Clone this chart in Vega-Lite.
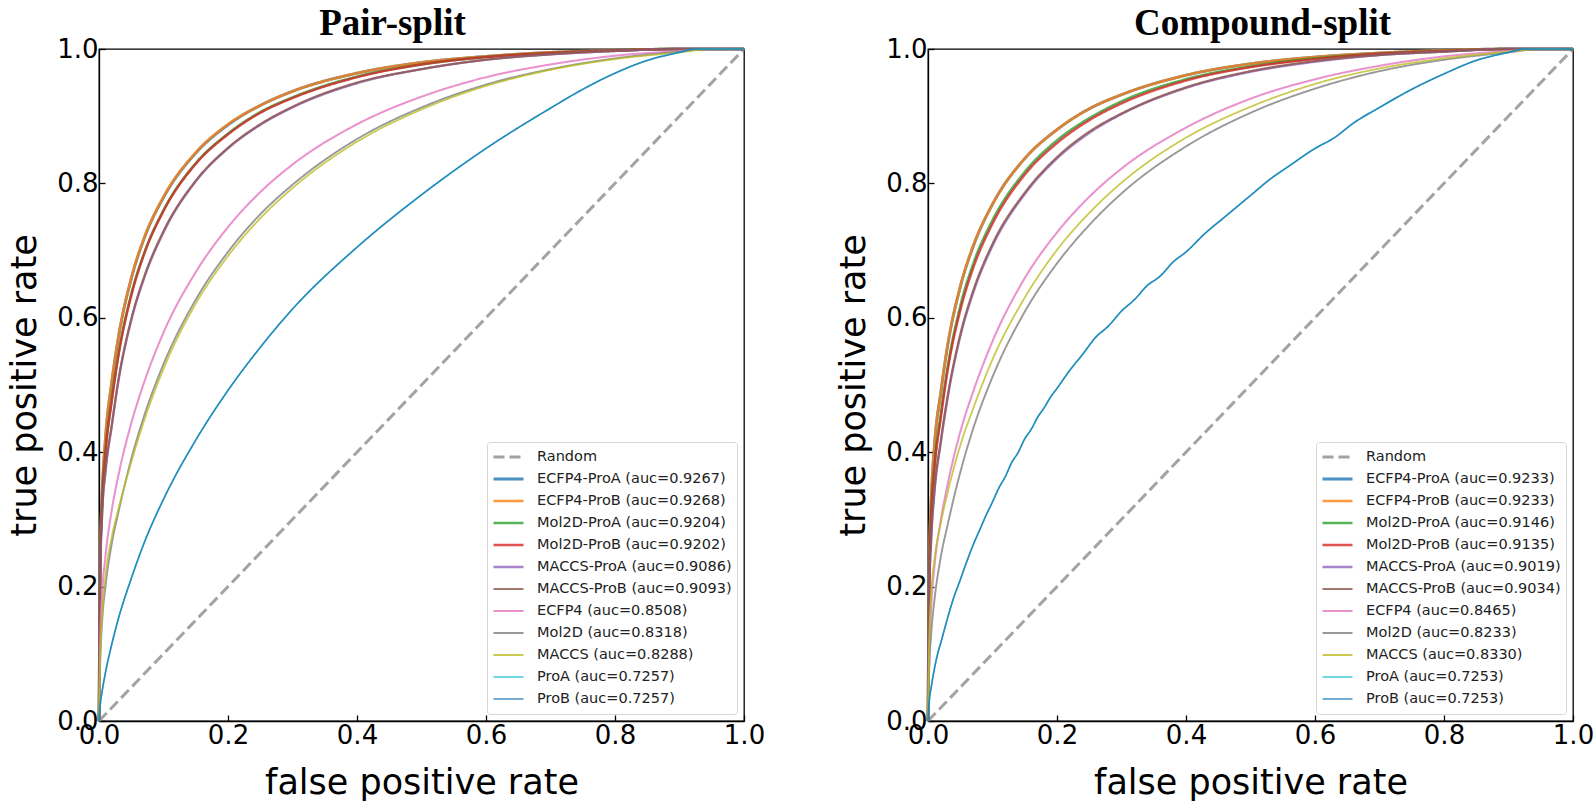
{
"$schema": "https://vega.github.io/schema/vega-lite/v6.json",
"background": "white",
"padding": {"left": 7, "top": 4, "right": 0, "bottom": 0},
"spacing": 70,
"datasets": {
"labP": [{"s":"R","k":"Random"},{"s":"EA","k":"ECFP4-ProA (auc=0.9267)"},{"s":"EB","k":"ECFP4-ProB (auc=0.9268)"},{"s":"MA","k":"Mol2D-ProA (auc=0.9204)"},{"s":"MB","k":"Mol2D-ProB (auc=0.9202)"},{"s":"CA","k":"MACCS-ProA (auc=0.9086)"},{"s":"CB","k":"MACCS-ProB (auc=0.9093)"},{"s":"E","k":"ECFP4 (auc=0.8508)"},{"s":"M","k":"Mol2D (auc=0.8318)"},{"s":"C","k":"MACCS (auc=0.8288)"},{"s":"PA","k":"ProA (auc=0.7257)"},{"s":"PB","k":"ProB (auc=0.7257)"}],
"labC": [{"s":"R","k":"Random"},{"s":"EA","k":"ECFP4-ProA (auc=0.9233)"},{"s":"EB","k":"ECFP4-ProB (auc=0.9233)"},{"s":"MA","k":"Mol2D-ProA (auc=0.9146)"},{"s":"MB","k":"Mol2D-ProB (auc=0.9135)"},{"s":"CA","k":"MACCS-ProA (auc=0.9019)"},{"s":"CB","k":"MACCS-ProB (auc=0.9034)"},{"s":"E","k":"ECFP4 (auc=0.8465)"},{"s":"M","k":"Mol2D (auc=0.8233)"},{"s":"C","k":"MACCS (auc=0.8330)"},{"s":"PA","k":"ProA (auc=0.7253)"},{"s":"PB","k":"ProB (auc=0.7253)"}],
"roc": [
{"p":"P","s":"R","x":0,"y":0},{"p":"P","s":"R","x":1,"y":1},
{"p":"P","s":"EA","x":0,"y":0},{"p":"P","s":"EA","x":0.002,"y":0.25},{"p":"P","s":"EA","x":0.005,"y":0.34},{"p":"P","s":"EA","x":0.01,"y":0.42},{"p":"P","s":"EA","x":0.02,"y":0.505},{"p":"P","s":"EA","x":0.03,"y":0.57},{"p":"P","s":"EA","x":0.05,"y":0.658},{"p":"P","s":"EA","x":0.07,"y":0.718},{"p":"P","s":"EA","x":0.1,"y":0.779},{"p":"P","s":"EA","x":0.15,"y":0.845},{"p":"P","s":"EA","x":0.2,"y":0.887},{"p":"P","s":"EA","x":0.25,"y":0.916},{"p":"P","s":"EA","x":0.3,"y":0.937},{"p":"P","s":"EA","x":0.4,"y":0.964},{"p":"P","s":"EA","x":0.5,"y":0.98},{"p":"P","s":"EA","x":0.6,"y":0.989},{"p":"P","s":"EA","x":0.7,"y":0.995},{"p":"P","s":"EA","x":0.8,"y":0.998},{"p":"P","s":"EA","x":0.9,"y":1},{"p":"P","s":"EA","x":1,"y":1},
{"p":"P","s":"EB","x":0,"y":0},{"p":"P","s":"EB","x":0.002,"y":0.252},{"p":"P","s":"EB","x":0.005,"y":0.342},{"p":"P","s":"EB","x":0.01,"y":0.421},{"p":"P","s":"EB","x":0.02,"y":0.507},{"p":"P","s":"EB","x":0.03,"y":0.571},{"p":"P","s":"EB","x":0.05,"y":0.659},{"p":"P","s":"EB","x":0.07,"y":0.719},{"p":"P","s":"EB","x":0.1,"y":0.78},{"p":"P","s":"EB","x":0.15,"y":0.846},{"p":"P","s":"EB","x":0.2,"y":0.888},{"p":"P","s":"EB","x":0.25,"y":0.916},{"p":"P","s":"EB","x":0.3,"y":0.937},{"p":"P","s":"EB","x":0.4,"y":0.964},{"p":"P","s":"EB","x":0.5,"y":0.98},{"p":"P","s":"EB","x":0.6,"y":0.989},{"p":"P","s":"EB","x":0.7,"y":0.995},{"p":"P","s":"EB","x":0.8,"y":0.998},{"p":"P","s":"EB","x":0.9,"y":1},{"p":"P","s":"EB","x":1,"y":1},
{"p":"P","s":"MA","x":0,"y":0},{"p":"P","s":"MA","x":0.002,"y":0.24},{"p":"P","s":"MA","x":0.005,"y":0.33},{"p":"P","s":"MA","x":0.01,"y":0.4},{"p":"P","s":"MA","x":0.02,"y":0.48},{"p":"P","s":"MA","x":0.03,"y":0.545},{"p":"P","s":"MA","x":0.05,"y":0.635},{"p":"P","s":"MA","x":0.07,"y":0.696},{"p":"P","s":"MA","x":0.1,"y":0.76},{"p":"P","s":"MA","x":0.15,"y":0.83},{"p":"P","s":"MA","x":0.2,"y":0.874},{"p":"P","s":"MA","x":0.25,"y":0.906},{"p":"P","s":"MA","x":0.3,"y":0.928},{"p":"P","s":"MA","x":0.4,"y":0.959},{"p":"P","s":"MA","x":0.5,"y":0.977},{"p":"P","s":"MA","x":0.6,"y":0.988},{"p":"P","s":"MA","x":0.7,"y":0.994},{"p":"P","s":"MA","x":0.8,"y":0.998},{"p":"P","s":"MA","x":0.9,"y":1},{"p":"P","s":"MA","x":1,"y":1},
{"p":"P","s":"MB","x":0,"y":0},{"p":"P","s":"MB","x":0.002,"y":0.238},{"p":"P","s":"MB","x":0.005,"y":0.328},{"p":"P","s":"MB","x":0.01,"y":0.398},{"p":"P","s":"MB","x":0.02,"y":0.478},{"p":"P","s":"MB","x":0.03,"y":0.543},{"p":"P","s":"MB","x":0.05,"y":0.633},{"p":"P","s":"MB","x":0.07,"y":0.695},{"p":"P","s":"MB","x":0.1,"y":0.759},{"p":"P","s":"MB","x":0.15,"y":0.829},{"p":"P","s":"MB","x":0.2,"y":0.873},{"p":"P","s":"MB","x":0.25,"y":0.905},{"p":"P","s":"MB","x":0.3,"y":0.927},{"p":"P","s":"MB","x":0.4,"y":0.958},{"p":"P","s":"MB","x":0.5,"y":0.977},{"p":"P","s":"MB","x":0.6,"y":0.988},{"p":"P","s":"MB","x":0.7,"y":0.994},{"p":"P","s":"MB","x":0.8,"y":0.998},{"p":"P","s":"MB","x":0.9,"y":1},{"p":"P","s":"MB","x":1,"y":1},
{"p":"P","s":"CA","x":0,"y":0},{"p":"P","s":"CA","x":0.002,"y":0.22},{"p":"P","s":"CA","x":0.005,"y":0.31},{"p":"P","s":"CA","x":0.01,"y":0.37},{"p":"P","s":"CA","x":0.02,"y":0.44},{"p":"P","s":"CA","x":0.03,"y":0.505},{"p":"P","s":"CA","x":0.05,"y":0.596},{"p":"P","s":"CA","x":0.07,"y":0.659},{"p":"P","s":"CA","x":0.1,"y":0.727},{"p":"P","s":"CA","x":0.15,"y":0.803},{"p":"P","s":"CA","x":0.2,"y":0.852},{"p":"P","s":"CA","x":0.25,"y":0.887},{"p":"P","s":"CA","x":0.3,"y":0.913},{"p":"P","s":"CA","x":0.4,"y":0.949},{"p":"P","s":"CA","x":0.5,"y":0.97},{"p":"P","s":"CA","x":0.6,"y":0.984},{"p":"P","s":"CA","x":0.7,"y":0.992},{"p":"P","s":"CA","x":0.8,"y":0.997},{"p":"P","s":"CA","x":0.9,"y":1},{"p":"P","s":"CA","x":1,"y":1},
{"p":"P","s":"CB","x":0,"y":0},{"p":"P","s":"CB","x":0.002,"y":0.222},{"p":"P","s":"CB","x":0.005,"y":0.312},{"p":"P","s":"CB","x":0.01,"y":0.372},{"p":"P","s":"CB","x":0.02,"y":0.442},{"p":"P","s":"CB","x":0.03,"y":0.507},{"p":"P","s":"CB","x":0.05,"y":0.598},{"p":"P","s":"CB","x":0.07,"y":0.661},{"p":"P","s":"CB","x":0.1,"y":0.729},{"p":"P","s":"CB","x":0.15,"y":0.804},{"p":"P","s":"CB","x":0.2,"y":0.853},{"p":"P","s":"CB","x":0.25,"y":0.888},{"p":"P","s":"CB","x":0.3,"y":0.914},{"p":"P","s":"CB","x":0.4,"y":0.95},{"p":"P","s":"CB","x":0.5,"y":0.97},{"p":"P","s":"CB","x":0.6,"y":0.984},{"p":"P","s":"CB","x":0.7,"y":0.992},{"p":"P","s":"CB","x":0.8,"y":0.997},{"p":"P","s":"CB","x":0.9,"y":1},{"p":"P","s":"CB","x":1,"y":1},
{"p":"P","s":"E","x":0,"y":0},{"p":"P","s":"E","x":0.002,"y":0.12},{"p":"P","s":"E","x":0.005,"y":0.19},{"p":"P","s":"E","x":0.01,"y":0.245},{"p":"P","s":"E","x":0.02,"y":0.315},{"p":"P","s":"E","x":0.03,"y":0.365},{"p":"P","s":"E","x":0.05,"y":0.443},{"p":"P","s":"E","x":0.07,"y":0.504},{"p":"P","s":"E","x":0.1,"y":0.578},{"p":"P","s":"E","x":0.15,"y":0.668},{"p":"P","s":"E","x":0.2,"y":0.735},{"p":"P","s":"E","x":0.25,"y":0.787},{"p":"P","s":"E","x":0.3,"y":0.828},{"p":"P","s":"E","x":0.4,"y":0.888},{"p":"P","s":"E","x":0.5,"y":0.929},{"p":"P","s":"E","x":0.6,"y":0.958},{"p":"P","s":"E","x":0.7,"y":0.977},{"p":"P","s":"E","x":0.8,"y":0.99},{"p":"P","s":"E","x":0.9,"y":0.997},{"p":"P","s":"E","x":0.95,"y":1},{"p":"P","s":"E","x":1,"y":1},
{"p":"P","s":"M","x":0,"y":0},{"p":"P","s":"M","x":0.002,"y":0.09},{"p":"P","s":"M","x":0.005,"y":0.15},{"p":"P","s":"M","x":0.01,"y":0.2},{"p":"P","s":"M","x":0.02,"y":0.265},{"p":"P","s":"M","x":0.03,"y":0.31},{"p":"P","s":"M","x":0.05,"y":0.39},{"p":"P","s":"M","x":0.07,"y":0.454},{"p":"P","s":"M","x":0.1,"y":0.531},{"p":"P","s":"M","x":0.15,"y":0.627},{"p":"P","s":"M","x":0.2,"y":0.698},{"p":"P","s":"M","x":0.25,"y":0.754},{"p":"P","s":"M","x":0.3,"y":0.798},{"p":"P","s":"M","x":0.4,"y":0.866},{"p":"P","s":"M","x":0.5,"y":0.913},{"p":"P","s":"M","x":0.6,"y":0.947},{"p":"P","s":"M","x":0.7,"y":0.97},{"p":"P","s":"M","x":0.8,"y":0.986},{"p":"P","s":"M","x":0.9,"y":0.996},{"p":"P","s":"M","x":0.95,"y":1},{"p":"P","s":"M","x":1,"y":1},
{"p":"P","s":"C","x":0,"y":0},{"p":"P","s":"C","x":0.002,"y":0.1},{"p":"P","s":"C","x":0.005,"y":0.16},{"p":"P","s":"C","x":0.01,"y":0.215},{"p":"P","s":"C","x":0.02,"y":0.275},{"p":"P","s":"C","x":0.03,"y":0.315},{"p":"P","s":"C","x":0.05,"y":0.385},{"p":"P","s":"C","x":0.07,"y":0.447},{"p":"P","s":"C","x":0.1,"y":0.524},{"p":"P","s":"C","x":0.15,"y":0.621},{"p":"P","s":"C","x":0.2,"y":0.692},{"p":"P","s":"C","x":0.25,"y":0.748},{"p":"P","s":"C","x":0.3,"y":0.793},{"p":"P","s":"C","x":0.4,"y":0.862},{"p":"P","s":"C","x":0.5,"y":0.91},{"p":"P","s":"C","x":0.6,"y":0.945},{"p":"P","s":"C","x":0.7,"y":0.969},{"p":"P","s":"C","x":0.8,"y":0.985},{"p":"P","s":"C","x":0.9,"y":0.995},{"p":"P","s":"C","x":0.95,"y":1},{"p":"P","s":"C","x":1,"y":1},
{"p":"P","s":"PA","x":0,"y":0},{"p":"P","s":"PA","x":0.002,"y":0.025},{"p":"P","s":"PA","x":0.005,"y":0.045},{"p":"P","s":"PA","x":0.01,"y":0.072},{"p":"P","s":"PA","x":0.02,"y":0.115},{"p":"P","s":"PA","x":0.03,"y":0.152},{"p":"P","s":"PA","x":0.05,"y":0.212},{"p":"P","s":"PA","x":0.07,"y":0.265},{"p":"P","s":"PA","x":0.1,"y":0.33},{"p":"P","s":"PA","x":0.15,"y":0.418},{"p":"P","s":"PA","x":0.2,"y":0.492},{"p":"P","s":"PA","x":0.25,"y":0.556},{"p":"P","s":"PA","x":0.3,"y":0.613},{"p":"P","s":"PA","x":0.4,"y":0.705},{"p":"P","s":"PA","x":0.5,"y":0.783},{"p":"P","s":"PA","x":0.6,"y":0.852},{"p":"P","s":"PA","x":0.7,"y":0.912},{"p":"P","s":"PA","x":0.75,"y":0.94},{"p":"P","s":"PA","x":0.8,"y":0.964},{"p":"P","s":"PA","x":0.85,"y":0.983},{"p":"P","s":"PA","x":0.9,"y":0.995},{"p":"P","s":"PA","x":0.925,"y":1},{"p":"P","s":"PA","x":1,"y":1},
{"p":"P","s":"PB","x":0,"y":0},{"p":"P","s":"PB","x":0.002,"y":0.025},{"p":"P","s":"PB","x":0.005,"y":0.045},{"p":"P","s":"PB","x":0.01,"y":0.072},{"p":"P","s":"PB","x":0.02,"y":0.115},{"p":"P","s":"PB","x":0.03,"y":0.152},{"p":"P","s":"PB","x":0.05,"y":0.212},{"p":"P","s":"PB","x":0.07,"y":0.265},{"p":"P","s":"PB","x":0.1,"y":0.33},{"p":"P","s":"PB","x":0.15,"y":0.418},{"p":"P","s":"PB","x":0.2,"y":0.492},{"p":"P","s":"PB","x":0.25,"y":0.556},{"p":"P","s":"PB","x":0.3,"y":0.613},{"p":"P","s":"PB","x":0.4,"y":0.705},{"p":"P","s":"PB","x":0.5,"y":0.783},{"p":"P","s":"PB","x":0.6,"y":0.852},{"p":"P","s":"PB","x":0.7,"y":0.912},{"p":"P","s":"PB","x":0.75,"y":0.94},{"p":"P","s":"PB","x":0.8,"y":0.964},{"p":"P","s":"PB","x":0.85,"y":0.983},{"p":"P","s":"PB","x":0.9,"y":0.995},{"p":"P","s":"PB","x":0.925,"y":1},{"p":"P","s":"PB","x":1,"y":1},
{"p":"C","s":"R","x":0,"y":0},{"p":"C","s":"R","x":1,"y":1},
{"p":"C","s":"EA","x":0,"y":0},{"p":"C","s":"EA","x":0.002,"y":0.24},{"p":"C","s":"EA","x":0.005,"y":0.33},{"p":"C","s":"EA","x":0.01,"y":0.41},{"p":"C","s":"EA","x":0.02,"y":0.49},{"p":"C","s":"EA","x":0.03,"y":0.556},{"p":"C","s":"EA","x":0.05,"y":0.646},{"p":"C","s":"EA","x":0.07,"y":0.706},{"p":"C","s":"EA","x":0.1,"y":0.769},{"p":"C","s":"EA","x":0.15,"y":0.837},{"p":"C","s":"EA","x":0.2,"y":0.88},{"p":"C","s":"EA","x":0.25,"y":0.911},{"p":"C","s":"EA","x":0.3,"y":0.932},{"p":"C","s":"EA","x":0.4,"y":0.961},{"p":"C","s":"EA","x":0.5,"y":0.978},{"p":"C","s":"EA","x":0.6,"y":0.988},{"p":"C","s":"EA","x":0.7,"y":0.994},{"p":"C","s":"EA","x":0.8,"y":0.998},{"p":"C","s":"EA","x":0.9,"y":1},{"p":"C","s":"EA","x":1,"y":1},
{"p":"C","s":"EB","x":0,"y":0},{"p":"C","s":"EB","x":0.002,"y":0.24},{"p":"C","s":"EB","x":0.005,"y":0.331},{"p":"C","s":"EB","x":0.01,"y":0.41},{"p":"C","s":"EB","x":0.02,"y":0.49},{"p":"C","s":"EB","x":0.03,"y":0.557},{"p":"C","s":"EB","x":0.05,"y":0.646},{"p":"C","s":"EB","x":0.07,"y":0.707},{"p":"C","s":"EB","x":0.1,"y":0.769},{"p":"C","s":"EB","x":0.15,"y":0.837},{"p":"C","s":"EB","x":0.2,"y":0.88},{"p":"C","s":"EB","x":0.25,"y":0.911},{"p":"C","s":"EB","x":0.3,"y":0.932},{"p":"C","s":"EB","x":0.4,"y":0.961},{"p":"C","s":"EB","x":0.5,"y":0.978},{"p":"C","s":"EB","x":0.6,"y":0.988},{"p":"C","s":"EB","x":0.7,"y":0.994},{"p":"C","s":"EB","x":0.8,"y":0.998},{"p":"C","s":"EB","x":0.9,"y":1},{"p":"C","s":"EB","x":1,"y":1},
{"p":"C","s":"MA","x":0,"y":0},{"p":"C","s":"MA","x":0.002,"y":0.22},{"p":"C","s":"MA","x":0.005,"y":0.31},{"p":"C","s":"MA","x":0.01,"y":0.38},{"p":"C","s":"MA","x":0.02,"y":0.458},{"p":"C","s":"MA","x":0.03,"y":0.524},{"p":"C","s":"MA","x":0.05,"y":0.617},{"p":"C","s":"MA","x":0.07,"y":0.68},{"p":"C","s":"MA","x":0.1,"y":0.745},{"p":"C","s":"MA","x":0.15,"y":0.817},{"p":"C","s":"MA","x":0.2,"y":0.864},{"p":"C","s":"MA","x":0.25,"y":0.897},{"p":"C","s":"MA","x":0.3,"y":0.922},{"p":"C","s":"MA","x":0.4,"y":0.955},{"p":"C","s":"MA","x":0.5,"y":0.974},{"p":"C","s":"MA","x":0.6,"y":0.986},{"p":"C","s":"MA","x":0.7,"y":0.993},{"p":"C","s":"MA","x":0.8,"y":0.997},{"p":"C","s":"MA","x":0.9,"y":1},{"p":"C","s":"MA","x":1,"y":1},
{"p":"C","s":"MB","x":0,"y":0},{"p":"C","s":"MB","x":0.002,"y":0.215},{"p":"C","s":"MB","x":0.005,"y":0.305},{"p":"C","s":"MB","x":0.01,"y":0.375},{"p":"C","s":"MB","x":0.02,"y":0.452},{"p":"C","s":"MB","x":0.03,"y":0.519},{"p":"C","s":"MB","x":0.05,"y":0.611},{"p":"C","s":"MB","x":0.07,"y":0.674},{"p":"C","s":"MB","x":0.1,"y":0.74},{"p":"C","s":"MB","x":0.15,"y":0.813},{"p":"C","s":"MB","x":0.2,"y":0.86},{"p":"C","s":"MB","x":0.25,"y":0.894},{"p":"C","s":"MB","x":0.3,"y":0.919},{"p":"C","s":"MB","x":0.4,"y":0.953},{"p":"C","s":"MB","x":0.5,"y":0.973},{"p":"C","s":"MB","x":0.6,"y":0.985},{"p":"C","s":"MB","x":0.7,"y":0.993},{"p":"C","s":"MB","x":0.8,"y":0.997},{"p":"C","s":"MB","x":0.9,"y":1},{"p":"C","s":"MB","x":1,"y":1},
{"p":"C","s":"CA","x":0,"y":0},{"p":"C","s":"CA","x":0.002,"y":0.19},{"p":"C","s":"CA","x":0.005,"y":0.27},{"p":"C","s":"CA","x":0.01,"y":0.34},{"p":"C","s":"CA","x":0.02,"y":0.415},{"p":"C","s":"CA","x":0.03,"y":0.478},{"p":"C","s":"CA","x":0.05,"y":0.572},{"p":"C","s":"CA","x":0.07,"y":0.637},{"p":"C","s":"CA","x":0.1,"y":0.707},{"p":"C","s":"CA","x":0.15,"y":0.784},{"p":"C","s":"CA","x":0.2,"y":0.837},{"p":"C","s":"CA","x":0.25,"y":0.875},{"p":"C","s":"CA","x":0.3,"y":0.903},{"p":"C","s":"CA","x":0.4,"y":0.942},{"p":"C","s":"CA","x":0.5,"y":0.966},{"p":"C","s":"CA","x":0.6,"y":0.981},{"p":"C","s":"CA","x":0.7,"y":0.991},{"p":"C","s":"CA","x":0.8,"y":0.996},{"p":"C","s":"CA","x":0.9,"y":1},{"p":"C","s":"CA","x":1,"y":1},
{"p":"C","s":"CB","x":0,"y":0},{"p":"C","s":"CB","x":0.002,"y":0.193},{"p":"C","s":"CB","x":0.005,"y":0.273},{"p":"C","s":"CB","x":0.01,"y":0.343},{"p":"C","s":"CB","x":0.02,"y":0.418},{"p":"C","s":"CB","x":0.03,"y":0.481},{"p":"C","s":"CB","x":0.05,"y":0.575},{"p":"C","s":"CB","x":0.07,"y":0.64},{"p":"C","s":"CB","x":0.1,"y":0.71},{"p":"C","s":"CB","x":0.15,"y":0.786},{"p":"C","s":"CB","x":0.2,"y":0.839},{"p":"C","s":"CB","x":0.25,"y":0.877},{"p":"C","s":"CB","x":0.3,"y":0.904},{"p":"C","s":"CB","x":0.4,"y":0.943},{"p":"C","s":"CB","x":0.5,"y":0.967},{"p":"C","s":"CB","x":0.6,"y":0.982},{"p":"C","s":"CB","x":0.7,"y":0.991},{"p":"C","s":"CB","x":0.8,"y":0.996},{"p":"C","s":"CB","x":0.9,"y":1},{"p":"C","s":"CB","x":1,"y":1},
{"p":"C","s":"E","x":0,"y":0},{"p":"C","s":"E","x":0.002,"y":0.1},{"p":"C","s":"E","x":0.005,"y":0.17},{"p":"C","s":"E","x":0.01,"y":0.23},{"p":"C","s":"E","x":0.02,"y":0.3},{"p":"C","s":"E","x":0.03,"y":0.35},{"p":"C","s":"E","x":0.05,"y":0.43},{"p":"C","s":"E","x":0.07,"y":0.49},{"p":"C","s":"E","x":0.1,"y":0.565},{"p":"C","s":"E","x":0.15,"y":0.659},{"p":"C","s":"E","x":0.2,"y":0.727},{"p":"C","s":"E","x":0.25,"y":0.78},{"p":"C","s":"E","x":0.3,"y":0.822},{"p":"C","s":"E","x":0.4,"y":0.883},{"p":"C","s":"E","x":0.5,"y":0.926},{"p":"C","s":"E","x":0.6,"y":0.955},{"p":"C","s":"E","x":0.7,"y":0.975},{"p":"C","s":"E","x":0.8,"y":0.989},{"p":"C","s":"E","x":0.9,"y":0.997},{"p":"C","s":"E","x":0.95,"y":1},{"p":"C","s":"E","x":1,"y":1},
{"p":"C","s":"M","x":0,"y":0},{"p":"C","s":"M","x":0.002,"y":0.08},{"p":"C","s":"M","x":0.005,"y":0.13},{"p":"C","s":"M","x":0.01,"y":0.18},{"p":"C","s":"M","x":0.02,"y":0.245},{"p":"C","s":"M","x":0.03,"y":0.29},{"p":"C","s":"M","x":0.05,"y":0.37},{"p":"C","s":"M","x":0.07,"y":0.435},{"p":"C","s":"M","x":0.1,"y":0.512},{"p":"C","s":"M","x":0.15,"y":0.609},{"p":"C","s":"M","x":0.2,"y":0.681},{"p":"C","s":"M","x":0.25,"y":0.738},{"p":"C","s":"M","x":0.3,"y":0.785},{"p":"C","s":"M","x":0.4,"y":0.855},{"p":"C","s":"M","x":0.5,"y":0.905},{"p":"C","s":"M","x":0.6,"y":0.941},{"p":"C","s":"M","x":0.7,"y":0.967},{"p":"C","s":"M","x":0.8,"y":0.984},{"p":"C","s":"M","x":0.9,"y":0.995},{"p":"C","s":"M","x":0.95,"y":1},{"p":"C","s":"M","x":1,"y":1},
{"p":"C","s":"C","x":0,"y":0},{"p":"C","s":"C","x":0.002,"y":0.12},{"p":"C","s":"C","x":0.005,"y":0.19},{"p":"C","s":"C","x":0.01,"y":0.24},{"p":"C","s":"C","x":0.02,"y":0.295},{"p":"C","s":"C","x":0.03,"y":0.338},{"p":"C","s":"C","x":0.05,"y":0.41},{"p":"C","s":"C","x":0.07,"y":0.465},{"p":"C","s":"C","x":0.1,"y":0.538},{"p":"C","s":"C","x":0.15,"y":0.63},{"p":"C","s":"C","x":0.2,"y":0.701},{"p":"C","s":"C","x":0.25,"y":0.756},{"p":"C","s":"C","x":0.3,"y":0.801},{"p":"C","s":"C","x":0.4,"y":0.868},{"p":"C","s":"C","x":0.5,"y":0.914},{"p":"C","s":"C","x":0.6,"y":0.948},{"p":"C","s":"C","x":0.7,"y":0.971},{"p":"C","s":"C","x":0.8,"y":0.986},{"p":"C","s":"C","x":0.9,"y":0.996},{"p":"C","s":"C","x":0.95,"y":1},{"p":"C","s":"C","x":1,"y":1},
{"p":"C","s":"PA","x":0,"y":0},{"p":"C","s":"PA","x":0.002,"y":0.03},{"p":"C","s":"PA","x":0.005,"y":0.05},{"p":"C","s":"PA","x":0.01,"y":0.078},{"p":"C","s":"PA","x":0.015,"y":0.1},{"p":"C","s":"PA","x":0.02,"y":0.117},{"p":"C","s":"PA","x":0.03,"y":0.152},{"p":"C","s":"PA","x":0.04,"y":0.184},{"p":"C","s":"PA","x":0.05,"y":0.21},{"p":"C","s":"PA","x":0.06,"y":0.237},{"p":"C","s":"PA","x":0.07,"y":0.262},{"p":"C","s":"PA","x":0.08,"y":0.284},{"p":"C","s":"PA","x":0.09,"y":0.306},{"p":"C","s":"PA","x":0.1,"y":0.326},{"p":"C","s":"PA","x":0.11,"y":0.347},{"p":"C","s":"PA","x":0.12,"y":0.364},{"p":"C","s":"PA","x":0.13,"y":0.385},{"p":"C","s":"PA","x":0.14,"y":0.4},{"p":"C","s":"PA","x":0.15,"y":0.42},{"p":"C","s":"PA","x":0.16,"y":0.434},{"p":"C","s":"PA","x":0.17,"y":0.452},{"p":"C","s":"PA","x":0.18,"y":0.466},{"p":"C","s":"PA","x":0.19,"y":0.482},{"p":"C","s":"PA","x":0.2,"y":0.495},{"p":"C","s":"PA","x":0.22,"y":0.522},{"p":"C","s":"PA","x":0.24,"y":0.546},{"p":"C","s":"PA","x":0.26,"y":0.571},{"p":"C","s":"PA","x":0.28,"y":0.588},{"p":"C","s":"PA","x":0.3,"y":0.61},{"p":"C","s":"PA","x":0.32,"y":0.627},{"p":"C","s":"PA","x":0.34,"y":0.648},{"p":"C","s":"PA","x":0.36,"y":0.662},{"p":"C","s":"PA","x":0.38,"y":0.683},{"p":"C","s":"PA","x":0.4,"y":0.698},{"p":"C","s":"PA","x":0.43,"y":0.726},{"p":"C","s":"PA","x":0.46,"y":0.75},{"p":"C","s":"PA","x":0.5,"y":0.782},{"p":"C","s":"PA","x":0.53,"y":0.806},{"p":"C","s":"PA","x":0.56,"y":0.826},{"p":"C","s":"PA","x":0.6,"y":0.852},{"p":"C","s":"PA","x":0.63,"y":0.868},{"p":"C","s":"PA","x":0.66,"y":0.89},{"p":"C","s":"PA","x":0.7,"y":0.913},{"p":"C","s":"PA","x":0.75,"y":0.94},{"p":"C","s":"PA","x":0.8,"y":0.963},{"p":"C","s":"PA","x":0.85,"y":0.983},{"p":"C","s":"PA","x":0.9,"y":0.995},{"p":"C","s":"PA","x":0.925,"y":1},{"p":"C","s":"PA","x":1,"y":1},
{"p":"C","s":"PB","x":0,"y":0},{"p":"C","s":"PB","x":0.002,"y":0.03},{"p":"C","s":"PB","x":0.005,"y":0.05},{"p":"C","s":"PB","x":0.01,"y":0.078},{"p":"C","s":"PB","x":0.015,"y":0.1},{"p":"C","s":"PB","x":0.02,"y":0.117},{"p":"C","s":"PB","x":0.03,"y":0.152},{"p":"C","s":"PB","x":0.04,"y":0.184},{"p":"C","s":"PB","x":0.05,"y":0.21},{"p":"C","s":"PB","x":0.06,"y":0.237},{"p":"C","s":"PB","x":0.07,"y":0.262},{"p":"C","s":"PB","x":0.08,"y":0.284},{"p":"C","s":"PB","x":0.09,"y":0.306},{"p":"C","s":"PB","x":0.1,"y":0.326},{"p":"C","s":"PB","x":0.11,"y":0.347},{"p":"C","s":"PB","x":0.12,"y":0.364},{"p":"C","s":"PB","x":0.13,"y":0.385},{"p":"C","s":"PB","x":0.14,"y":0.4},{"p":"C","s":"PB","x":0.15,"y":0.42},{"p":"C","s":"PB","x":0.16,"y":0.434},{"p":"C","s":"PB","x":0.17,"y":0.452},{"p":"C","s":"PB","x":0.18,"y":0.466},{"p":"C","s":"PB","x":0.19,"y":0.482},{"p":"C","s":"PB","x":0.2,"y":0.495},{"p":"C","s":"PB","x":0.22,"y":0.522},{"p":"C","s":"PB","x":0.24,"y":0.546},{"p":"C","s":"PB","x":0.26,"y":0.571},{"p":"C","s":"PB","x":0.28,"y":0.588},{"p":"C","s":"PB","x":0.3,"y":0.61},{"p":"C","s":"PB","x":0.32,"y":0.627},{"p":"C","s":"PB","x":0.34,"y":0.648},{"p":"C","s":"PB","x":0.36,"y":0.662},{"p":"C","s":"PB","x":0.38,"y":0.683},{"p":"C","s":"PB","x":0.4,"y":0.698},{"p":"C","s":"PB","x":0.43,"y":0.726},{"p":"C","s":"PB","x":0.46,"y":0.75},{"p":"C","s":"PB","x":0.5,"y":0.782},{"p":"C","s":"PB","x":0.53,"y":0.806},{"p":"C","s":"PB","x":0.56,"y":0.826},{"p":"C","s":"PB","x":0.6,"y":0.852},{"p":"C","s":"PB","x":0.63,"y":0.868},{"p":"C","s":"PB","x":0.66,"y":0.89},{"p":"C","s":"PB","x":0.7,"y":0.913},{"p":"C","s":"PB","x":0.75,"y":0.94},{"p":"C","s":"PB","x":0.8,"y":0.963},{"p":"C","s":"PB","x":0.85,"y":0.983},{"p":"C","s":"PB","x":0.9,"y":0.995},{"p":"C","s":"PB","x":0.925,"y":1},{"p":"C","s":"PB","x":1,"y":1}
]
},
"config": {
"view": {"stroke": "black", "strokeWidth": 1.3},
"axis": {"grid": false, "labelFlush": false, "domainColor": "black", "domainWidth": 1.3, "tickColor": "black", "tickSize": -6, "tickWidth": 1.3, "labelFont": "DejaVu Sans", "labelFontSize": 26, "labelColor": "black", "labelPadding": 7, "titleFont": "DejaVu Sans", "titleFontSize": 35, "titleFontWeight": "normal", "titleColor": "black"},
"title": {"font": "Liberation Serif", "fontSize": 37, "fontWeight": "bold", "color": "black", "frame": "group", "anchor": "middle", "offset": -7},
"legend": {"orient": "bottom-right", "offset": 7, "symbolType": "stroke", "symbolSize": 900, "clipHeight": 20, "rowPadding": 2, "labelFont": "DejaVu Sans", "labelFontSize": 14.5, "labelLimit": 0, "labelColor": "#222222", "labelOffset": 12, "strokeColor": "#d6d6d6", "fillColor": "white", "padding": 5, "cornerRadius": 3}
},
"resolve": {"scale": {"color": "independent", "strokeDash": "independent", "strokeWidth": "independent"}, "legend": {"color": "independent", "strokeDash": "independent", "strokeWidth": "independent"}},
"hconcat": [
{
"title": {"text": "Pair-split", "dx": -29},
"width": 645, "height": 672,
"data": {"name": "roc"},
"transform": [{"filter": "datum.p === 'P'"}, {"lookup": "s", "from": {"data": {"name": "labP"}, "key": "s", "fields": ["k"]}}],
"mark": {"type": "line", "interpolate": "monotone", "opacity": 0.8},
"encoding": {
"x": {"field": "x", "type": "quantitative", "scale": {"domain": [0, 1], "nice": false}, "axis": {"values": [0, 0.2, 0.4, 0.6, 0.8, 1], "format": ".1f", "title": "false positive rate", "titlePadding": 17}},
"y": {"field": "y", "type": "quantitative", "scale": {"domain": [0, 1], "nice": false}, "axis": {"values": [0, 0.2, 0.4, 0.6, 0.8, 1], "format": ".1f", "title": "true positive rate", "titlePadding": 14}},
"color": {"field": "k", "type": "nominal", "scale": {"domain": ["Random","ECFP4-ProA (auc=0.9267)","ECFP4-ProB (auc=0.9268)","Mol2D-ProA (auc=0.9204)","Mol2D-ProB (auc=0.9202)","MACCS-ProA (auc=0.9086)","MACCS-ProB (auc=0.9093)","ECFP4 (auc=0.8508)","Mol2D (auc=0.8318)","MACCS (auc=0.8288)","ProA (auc=0.7257)","ProB (auc=0.7257)"], "range": ["#8c8c8c","#1f77b4","#ff7f0e","#2ca02c","#d62728","#9467bd","#8c564b","#e377c2","#7f7f7f","#bcbd22","#17becf","#1f77b4"]}, "legend": {"title": null}},
"strokeDash": {"field": "k", "type": "nominal", "scale": {"domain": ["Random","ECFP4-ProA (auc=0.9267)","ECFP4-ProB (auc=0.9268)","Mol2D-ProA (auc=0.9204)","Mol2D-ProB (auc=0.9202)","MACCS-ProA (auc=0.9086)","MACCS-ProB (auc=0.9093)","ECFP4 (auc=0.8508)","Mol2D (auc=0.8318)","MACCS (auc=0.8288)","ProA (auc=0.7257)","ProB (auc=0.7257)"], "range": [[11,5],[1,0],[1,0],[1,0],[1,0],[1,0],[1,0],[1,0],[1,0],[1,0],[1,0],[1,0]]}, "legend": {"title": null}},
"strokeWidth": {"field": "k", "type": "nominal", "scale": {"domain": ["Random","ECFP4-ProA (auc=0.9267)","ECFP4-ProB (auc=0.9268)","Mol2D-ProA (auc=0.9204)","Mol2D-ProB (auc=0.9202)","MACCS-ProA (auc=0.9086)","MACCS-ProB (auc=0.9093)","ECFP4 (auc=0.8508)","Mol2D (auc=0.8318)","MACCS (auc=0.8288)","ProA (auc=0.7257)","ProB (auc=0.7257)"], "range": [3,1.5,1.5,1.5,1.5,1.5,1.5,1.5,1.5,1.5,1.5,1.5]}, "legend": {"title": null}}
}
},
{
"title": {"text": "Compound-split", "dx": 12},
"width": 645, "height": 672,
"data": {"name": "roc"},
"transform": [{"filter": "datum.p === 'C'"}, {"lookup": "s", "from": {"data": {"name": "labC"}, "key": "s", "fields": ["k"]}}],
"mark": {"type": "line", "interpolate": "monotone", "opacity": 0.8},
"encoding": {
"x": {"field": "x", "type": "quantitative", "scale": {"domain": [0, 1], "nice": false}, "axis": {"values": [0, 0.2, 0.4, 0.6, 0.8, 1], "format": ".1f", "title": "false positive rate", "titlePadding": 17}},
"y": {"field": "y", "type": "quantitative", "scale": {"domain": [0, 1], "nice": false}, "axis": {"values": [0, 0.2, 0.4, 0.6, 0.8, 1], "format": ".1f", "title": "true positive rate", "titlePadding": 14}},
"color": {"field": "k", "type": "nominal", "scale": {"domain": ["Random","ECFP4-ProA (auc=0.9233)","ECFP4-ProB (auc=0.9233)","Mol2D-ProA (auc=0.9146)","Mol2D-ProB (auc=0.9135)","MACCS-ProA (auc=0.9019)","MACCS-ProB (auc=0.9034)","ECFP4 (auc=0.8465)","Mol2D (auc=0.8233)","MACCS (auc=0.8330)","ProA (auc=0.7253)","ProB (auc=0.7253)"], "range": ["#8c8c8c","#1f77b4","#ff7f0e","#2ca02c","#d62728","#9467bd","#8c564b","#e377c2","#7f7f7f","#bcbd22","#17becf","#1f77b4"]}, "legend": {"title": null}},
"strokeDash": {"field": "k", "type": "nominal", "scale": {"domain": ["Random","ECFP4-ProA (auc=0.9233)","ECFP4-ProB (auc=0.9233)","Mol2D-ProA (auc=0.9146)","Mol2D-ProB (auc=0.9135)","MACCS-ProA (auc=0.9019)","MACCS-ProB (auc=0.9034)","ECFP4 (auc=0.8465)","Mol2D (auc=0.8233)","MACCS (auc=0.8330)","ProA (auc=0.7253)","ProB (auc=0.7253)"], "range": [[11,5],[1,0],[1,0],[1,0],[1,0],[1,0],[1,0],[1,0],[1,0],[1,0],[1,0],[1,0]]}, "legend": {"title": null}},
"strokeWidth": {"field": "k", "type": "nominal", "scale": {"domain": ["Random","ECFP4-ProA (auc=0.9233)","ECFP4-ProB (auc=0.9233)","Mol2D-ProA (auc=0.9146)","Mol2D-ProB (auc=0.9135)","MACCS-ProA (auc=0.9019)","MACCS-ProB (auc=0.9034)","ECFP4 (auc=0.8465)","Mol2D (auc=0.8233)","MACCS (auc=0.8330)","ProA (auc=0.7253)","ProB (auc=0.7253)"], "range": [3,1.5,1.5,1.5,1.5,1.5,1.5,1.5,1.5,1.5,1.5,1.5]}, "legend": {"title": null}}
}
}
]
}
